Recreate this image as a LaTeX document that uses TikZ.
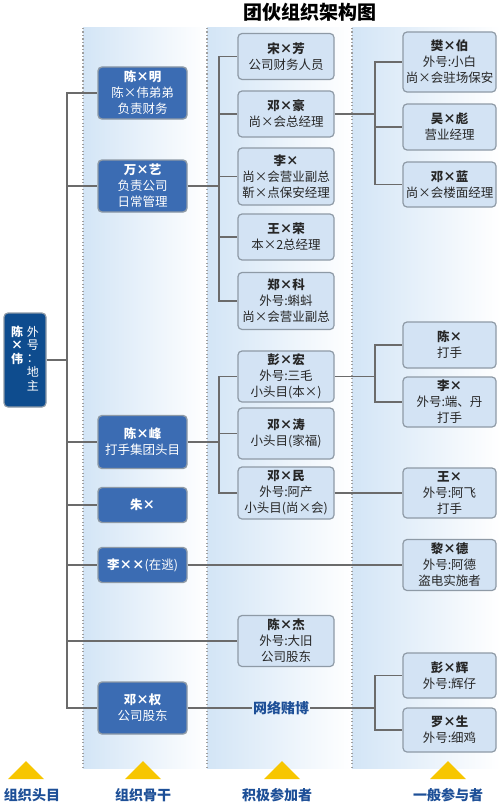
\documentclass[tikz,border=0pt]{standalone}
\usepackage{fontspec}
\setmainfont{Noto Sans CJK SC}
\usepackage{xcolor}
\usetikzlibrary{calc,positioning}
\definecolor{headblue}{HTML}{0E4C8E}
\definecolor{coreblue}{HTML}{3B6CB3}
\definecolor{memberblue}{HTML}{D3E3F4}
\definecolor{boxrim}{HTML}{8E9AA6}
\definecolor{linkgray}{HTML}{6B6B6B}
\definecolor{bandblue}{HTML}{D3E5F6}
\definecolor{labelblue}{HTML}{1D4F97}
\definecolor{markgold}{HTML}{F7C600}
\tikzset{
 gang head/.style={rectangle,rounded corners=4pt,fill=headblue,draw=boxrim,line width=1.2pt,
                   text=white,minimum width=42pt,minimum height=94pt,inner sep=0pt},
 gang core/.style={rectangle,rounded corners=4pt,fill=coreblue,draw=boxrim,line width=1.4pt,
                   text=white,minimum width=89pt,align=center,inner sep=2pt,
                   font=\fontsize{12.5}{16}\selectfont},
 gang member/.style={rectangle,rounded corners=4pt,fill=memberblue,draw=boxrim,line width=1.2pt,
                   text=black!85,minimum width=96pt,align=center,inner sep=2pt,
                   font=\fontsize{12.5}{16}\selectfont},
 gang helper/.style={gang member,minimum width=93pt},
 gang link/.style={draw=linkgray,line width=1.5pt},
 gang divider/.style={draw=gray!75,line width=1.3pt,dash pattern=on 1.3pt off 2.2pt},
 gang rank/.style={font=\fontsize{14}{14}\selectfont\bfseries,text=labelblue,inner sep=0pt}
}

\begin{document}
\begin{tikzpicture}[x=1pt,y=-1pt]
 \useasboundingbox (0,0) rectangle (500,808);
 % column bands
 \foreach \xa/\xb in {83/207,207/352,352/500}
  \shade[left color=bandblue,right color=white] (\xa,28) rectangle (\xb,768);
 \foreach \xa in {83,207,352}
  \draw[gang divider] (\xa,28) -- (\xa,768);

 \node[font=\fontsize{19}{19}\selectfont\bfseries] (title) at (310,12) {团伙组织架构图};

 \node[gang head] (chenwei) at (25,360) {\fontsize{12}{13}\selectfont
  \begin{tabular}[t]{@{}c@{}}\textbf{陈}\\\textbf{×}\\\textbf{伟}\end{tabular}\hspace{4pt}%
  \begin{tabular}[t]{@{}c@{}}外\\号\\：\\地\\主\end{tabular}};

 % backbone
 \node[gang core,minimum height=52pt] (chenming) at (142.5,93) {\textbf{陈×明}\\陈×伟弟弟\\负责财务};
 \node[gang core,minimum height=52pt] (wanyi) at (142.5,186) {\textbf{万×艺}\\负责公司\\日常管理};
 \node[gang core,minimum height=53pt] (chenfeng) at (142.5,442) {\textbf{陈×峰}\\打手集团头目};
 \node[gang core,minimum height=35pt] (zhu) at (142.5,505) {\textbf{朱×}};
 \node[gang core,minimum height=35pt] (lixx) at (142.5,565) {\textbf{李××}(在逃)};
 \node[gang core,minimum height=52pt] (dengquan) at (142.5,708) {\textbf{邓×权}\\公司股东};

 % active members
 \node[gang member,minimum height=46pt] (songfang) at (286,56.5) {\textbf{宋×芳}\\公司财务人员};
 \node[gang member,minimum height=46pt] (denghao) at (286,114) {\textbf{邓×豪}\\尚×会总经理};
 \node[gang member,minimum height=57pt] (lisub) at (286,176.5) {\textbf{李×}\\尚×会营业副总\\靳×点保安经理};
 \node[gang member,minimum height=46pt] (wangrong) at (286,237) {\textbf{王×荣}\\本×2总经理};
 \node[gang member,minimum height=57pt] (zhengke) at (286,301) {\textbf{郑×科}\\外号:蝌蚪\\尚×会营业副总};
 \node[gang member,minimum height=51pt] (penghong) at (286,376.5) {\textbf{彭×宏}\\外号:三毛\\小头目(本×)};
 \node[gang member,minimum height=51pt] (dengtao) at (286,433.5) {\textbf{邓×涛}\\小头目(家福)};
 \node[gang member,minimum height=52pt] (dengmin) at (286,493) {\textbf{邓×民}\\外号:阿产\\小头目(尚×会)};
 \node[gang member,minimum height=51pt] (chenjie) at (286,641) {\textbf{陈×杰}\\外号:大旧\\公司股东};

 % ordinary members
 \node[gang helper,minimum height=60pt] (fanbo) at (449.5,62) {\textbf{樊×伯}\\外号:小白\\尚×会驻场保安};
 \node[gang helper,minimum height=46pt] (wubiao) at (449.5,127) {\textbf{吴×彪}\\营业经理};
 \node[gang helper,minimum height=45pt] (denglan) at (449.5,184.5) {\textbf{邓×蓝}\\尚×会楼面经理};
 \node[gang helper,minimum height=46pt] (chenx) at (449.5,345) {\textbf{陈×}\\打手};
 \node[gang helper,minimum height=50pt] (lix) at (449.5,402) {\textbf{李×}\\外号:端、丹\\打手};
 \node[gang helper,minimum height=50pt] (wangx) at (449.5,493) {\textbf{王×}\\外号:阿飞\\打手};
 \node[gang helper,minimum height=51pt] (lide) at (449.5,565) {\textbf{黎×德}\\外号:阿德\\盗电实施者};
 \node[gang helper,minimum height=45pt] (penghui) at (449.5,675.5) {\textbf{彭×辉}\\外号:辉仔};
 \node[gang helper,minimum height=44pt] (luosheng) at (449.5,730) {\textbf{罗×生}\\外号:细鸡};

 \node[font=\fontsize{14}{14}\selectfont\bfseries,text=labelblue,inner sep=1pt] (gamble) at (281,708) {网络赌博};

 % junctions
 \coordinate (jroot) at (67,360);
 \coordinate (jwan) at (219,186);
 \coordinate (jhao) at (375,114);
 \coordinate (jfeng) at (219,442);
 \coordinate (jhong) at (375,376.5);
 \coordinate (jgamble) at (375,708);

 \draw[gang link] (chenwei.east) -- (jroot);
 \foreach \n in {chenming,wanyi,chenfeng,zhu,lixx,chenjie,dengquan}
  \draw[gang link] (jroot) |- (\n.west);
 \draw[gang link] (wanyi.east) -- (jwan);
 \foreach \n in {songfang,denghao,lisub,wangrong,zhengke}
  \draw[gang link] (jwan) |- (\n.west);
 \draw[gang link] (denghao.east) -- (jhao);
 \foreach \n in {fanbo,wubiao,denglan}
  \draw[gang link] (jhao) |- (\n.west);
 \draw[gang link] (chenfeng.east) -- (jfeng);
 \foreach \n in {penghong,dengtao,dengmin}
  \draw[gang link] (jfeng) |- (\n.west);
 \draw[gang link] (penghong.east) -- (jhong);
 \foreach \n in {chenx,lix}
  \draw[gang link] (jhong) |- (\n.west);
 \draw[gang link] (dengmin.east) -- (wangx.west);
 \draw[gang link] (lixx.east) -- (lide.west);
 \draw[gang link] (dengquan.east) -- (gamble.west);
 \draw[gang link] (gamble.east) -- (jgamble);
 \foreach \n in {penghui,luosheng}
  \draw[gang link] (jgamble) |- (\n.west);

 % rank markers
 \foreach \x/\lx/\t in {26/32/组织头目,143/143/组织骨干,282/277/积极参加者,448/448/一般参与者}{
  \fill[markgold] (\x-18,779) -- (\x+18,779) -- (\x,761) -- cycle;
  \node[gang rank] at (\lx,795) {\t};
 }
\end{tikzpicture}
\end{document}
